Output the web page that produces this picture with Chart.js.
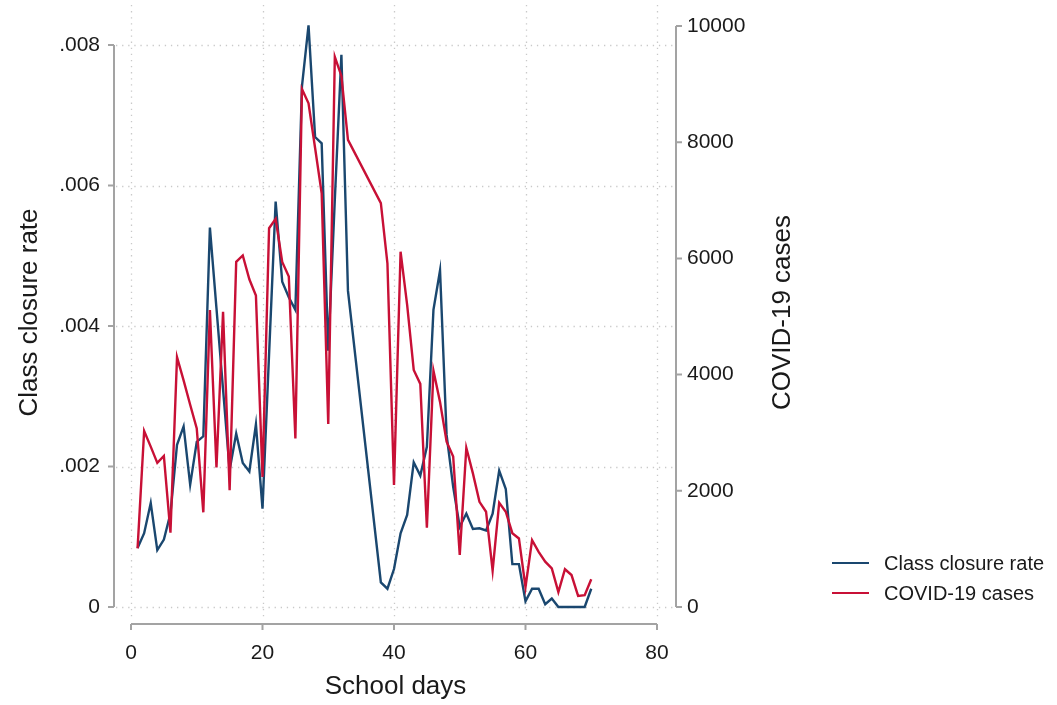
<!DOCTYPE html>
<html>
<head>
<meta charset="utf-8">
<script src="https://cdn.jsdelivr.net/npm/chart.js@4.4.1/dist/chart.umd.min.js"></script>
<style>
    html, body { margin: 0; padding: 0; background: #fff; }
    #wrap { width: 1057px; height: 705px; position: relative; }
</style>
</head>
<body>
<div id="wrap"><canvas id="closureChart"></canvas></div>
<script>
// School days 1..70 (days 34-37 have no observation)
const schoolDays = [
    1, 2, 3, 4, 5, 6, 7, 8, 9, 10, 11, 12, 13, 14, 15, 16, 17, 18, 19, 20,
    21, 22, 23, 24, 25, 26, 27, 28, 29, 30, 31, 32, 33, 34, 35, 36, 37, 38, 39, 40,
    41, 42, 43, 44, 45, 46, 47, 48, 49, 50, 51, 52, 53, 54, 55, 56, 57, 58, 59, 60,
    61, 62, 63, 64, 65, 66, 67, 68, 69, 70
];
const closureRate = [
    0.00084, 0.00105, 0.00148, 0.00081, 0.00096, 0.00133, 0.00231, 0.00257, 0.00174, 0.00235,
    0.00243, 0.00540, 0.00425, 0.00310, 0.00195, 0.00247, 0.00205, 0.00193, 0.00260, 0.00140,
    0.00360, 0.00577, 0.00463, 0.00441, 0.00423, 0.00741, 0.00828, 0.00669, 0.00660, 0.00365,
    0.00580, 0.00786, 0.00450, null, null, null, null, 0.00035, 0.00026, 0.00054,
    0.00105, 0.00131, 0.00206, 0.00187, 0.00228, 0.00423, 0.00479, 0.00245, 0.00171, 0.00114,
    0.00133, 0.00111, 0.00112, 0.00109, 0.00133, 0.00194, 0.00168, 0.00061, 0.00061, 0.00008,
    0.00026, 0.00026, 0.00004, 0.00012, 0, 0, 0, 0, 0, 0.00026
];
const covidCases = [
    1010, 3030, 2760, 2480, 2600, 1280, 4300, 3900, 3480, 3075,
    1630, 5110, 2400, 5080, 2010, 5940, 6050, 5640, 5360, 2240,
    6520, 6680, 5940, 5690, 2900, 8915, 8670, 7900, 7120, 3150,
    9470, 9140, 8040, null, null, null, null, 6950, 5915, 2100,
    6115, 5200, 4080, 3840, 1365, 4067, 3530, 2845, 2590, 895,
    2740, 2300, 1810, 1640, 625, 1795, 1640, 1270, 1180, 340,
    1150, 950, 780, 665, 255, 650, 550, 190, 205, 477
];
const dayTicks = [0, 20, 40, 60, 80];
const rateTicks = [0, 0.002, 0.004, 0.006, 0.008];
const caseTicks = [0, 2000, 4000, 6000, 8000, 10000];

const seriesNames = ['Class closure rate', 'COVID-19 cases'];
const blue = 'rgb(26, 71, 111)';
const red = 'rgb(200, 16, 54)';
const axisGray = '#a3a3a3';
const gridGray = '#c9c9c9';
const textColor = '#1a1a1a';
const fontFamily = '"Liberation Sans", Arial, Helvetica, sans-serif';

// plot region in canvas px, and where the tick ranges sit inside it
const area = { left: 114, right: 677, top: 5, bottom: 620 };
const xFrom = 131, xTo = 657;
const yZero = 607, yRateTop = 45, yCasesTop = 26;

// value range that puts v0 at p0 and v1 at p1 over the pixel span lo..hi
function span(v0, v1, p0, p1, lo, hi) {
    const k = (v1 - v0) / (p1 - p0);
    return { min: v0 + (lo - p0) * k, max: v0 + (hi - p0) * k };
}
const xRange = span(0, 80, xFrom, xTo, area.left, area.right);
const rateRange = span(0, 0.008, yZero, yRateTop, area.bottom, area.top);
const caseRange = span(0, 10000, yZero, yCasesTop, area.bottom, area.top);

function points(values) {
    return schoolDays.map((d, i) => ({ x: d, y: values[i] }));
}

// keep the label overflow from shrinking the plot region
function noPadding(s) {
    s.paddingTop = 0; s.paddingBottom = 0; s.paddingLeft = 0; s.paddingRight = 0;
}

const stataFrame = {
    id: 'stataFrame',
    beforeDatasetsDraw(chart) {
        const { ctx, chartArea: a, scales } = chart;
        ctx.save();
        ctx.strokeStyle = gridGray;
        ctx.lineWidth = 1.3;
        ctx.setLineDash([1.3, 4.8]);
        rateTicks.forEach(v => {
            const py = Math.round(scales.y.getPixelForValue(v)) + 0.5;
            ctx.beginPath(); ctx.moveTo(a.left + 2, py); ctx.lineTo(a.right - 3, py); ctx.stroke();
        });
        dayTicks.forEach(v => {
            const px = Math.round(scales.x.getPixelForValue(v)) + 0.5;
            ctx.beginPath(); ctx.moveTo(px, a.top); ctx.lineTo(px, a.bottom - 2); ctx.stroke();
        });
        ctx.restore();
    },
    afterDraw(chart) {
        const { ctx, chartArea: a, scales } = chart;
        const tick = 6;
        ctx.save();
        ctx.strokeStyle = axisGray;
        ctx.lineWidth = 2;
        ctx.setLineDash([]);

        // left axis
        const lx = a.left;
        ctx.beginPath();
        ctx.moveTo(lx, scales.y.getPixelForValue(rateTicks[rateTicks.length - 1]));
        ctx.lineTo(lx, scales.y.getPixelForValue(0));
        rateTicks.forEach(v => {
            const py = scales.y.getPixelForValue(v);
            ctx.moveTo(lx - tick, py); ctx.lineTo(lx, py);
        });
        ctx.stroke();

        // right axis
        const rx = a.right - 1;
        ctx.beginPath();
        ctx.moveTo(rx, scales.y1.getPixelForValue(caseTicks[caseTicks.length - 1]));
        ctx.lineTo(rx, scales.y1.getPixelForValue(0));
        caseTicks.forEach(v => {
            const py = scales.y1.getPixelForValue(v);
            ctx.moveTo(rx, py); ctx.lineTo(rx + tick, py);
        });
        ctx.stroke();

        // bottom axis
        const by = a.bottom + 4;
        ctx.beginPath();
        ctx.moveTo(scales.x.getPixelForValue(0), by);
        ctx.lineTo(scales.x.getPixelForValue(80), by);
        dayTicks.forEach(v => {
            const px = scales.x.getPixelForValue(v);
            ctx.moveTo(px, by); ctx.lineTo(px, by + tick);
        });
        ctx.stroke();

        // axis titles
        ctx.fillStyle = textColor;
        ctx.font = `26px ${fontFamily}`;
        ctx.textAlign = 'center';
        ctx.textBaseline = 'middle';
        const midY = (a.top + a.bottom) / 2;
        ctx.save();
        ctx.translate(30, midY);
        ctx.rotate(-Math.PI / 2);
        ctx.fillText('Class closure rate', 0, 0);
        ctx.restore();
        ctx.save();
        ctx.translate(783, midY);
        ctx.rotate(-Math.PI / 2);
        ctx.fillText('COVID-19 cases', 0, 0);
        ctx.restore();
        ctx.fillText('School days', (a.left + a.right) / 2, 687);

        // legend
        ctx.font = `20px ${fontFamily}`;
        ctx.textAlign = 'left';
        [blue, red].forEach((c, i) => {
            const ly = 563 + i * 30;
            ctx.strokeStyle = c;
            ctx.lineWidth = 2;
            ctx.beginPath(); ctx.moveTo(832, ly); ctx.lineTo(869, ly); ctx.stroke();
            ctx.fillText(seriesNames[i], 884, ly + 1);
        });
        ctx.restore();
    }
};

const tickFont = { family: fontFamily, size: 21 };

new Chart(document.getElementById('closureChart'), {
    type: 'line',
    data: {
        datasets: [
            {
                label: seriesNames[0],
                data: points(closureRate),
                yAxisID: 'y',
                borderColor: blue,
                borderWidth: 2.4,
                order: 1
            },
            {
                label: seriesNames[1],
                data: points(covidCases),
                yAxisID: 'y1',
                borderColor: red,
                borderWidth: 2.4,
                order: 0
            }
        ]
    },
    options: {
        responsive: true,
        maintainAspectRatio: false,
        animation: false,
        spanGaps: true,
        elements: { point: { radius: 0 }, line: { tension: 0 } },
        layout: { padding: { left: 0, right: 0, top: area.top, bottom: 0 } },
        plugins: { legend: { display: false }, tooltip: { enabled: false } },
        scales: {
            x: {
                type: 'linear',
                min: xRange.min,
                max: xRange.max,
                afterBuildTicks: s => { s.ticks = dayTicks.map(v => ({ value: v })); },
                afterFit: s => { s.height = 705 - area.bottom; noPadding(s); },
                grid: { display: false, drawTicks: false, tickLength: 0 },
                border: { display: false },
                ticks: { color: textColor, font: tickFont, padding: 21, maxRotation: 0, callback: v => String(v) }
            },
            y: {
                position: 'left',
                min: rateRange.min,
                max: rateRange.max,
                afterBuildTicks: s => { s.ticks = rateTicks.map(v => ({ value: v })); },
                afterFit: s => { s.width = area.left; noPadding(s); },
                grid: { display: false, drawTicks: false, tickLength: 0 },
                border: { display: false },
                ticks: {
                    color: textColor, font: tickFont, padding: 14,
                    callback: v => v === 0 ? '0' : v.toFixed(3).replace(/^0/, '')
                }
            },
            y1: {
                position: 'right',
                min: caseRange.min,
                max: caseRange.max,
                afterBuildTicks: s => { s.ticks = caseTicks.map(v => ({ value: v })); },
                afterFit: s => { s.width = 1057 - area.right; noPadding(s); },
                grid: { display: false, drawTicks: false, tickLength: 0 },
                border: { display: false },
                ticks: { color: textColor, font: tickFont, padding: 10, callback: v => String(v) }
            }
        }
    },
    plugins: [stataFrame]
});
</script>
</body>
</html>
